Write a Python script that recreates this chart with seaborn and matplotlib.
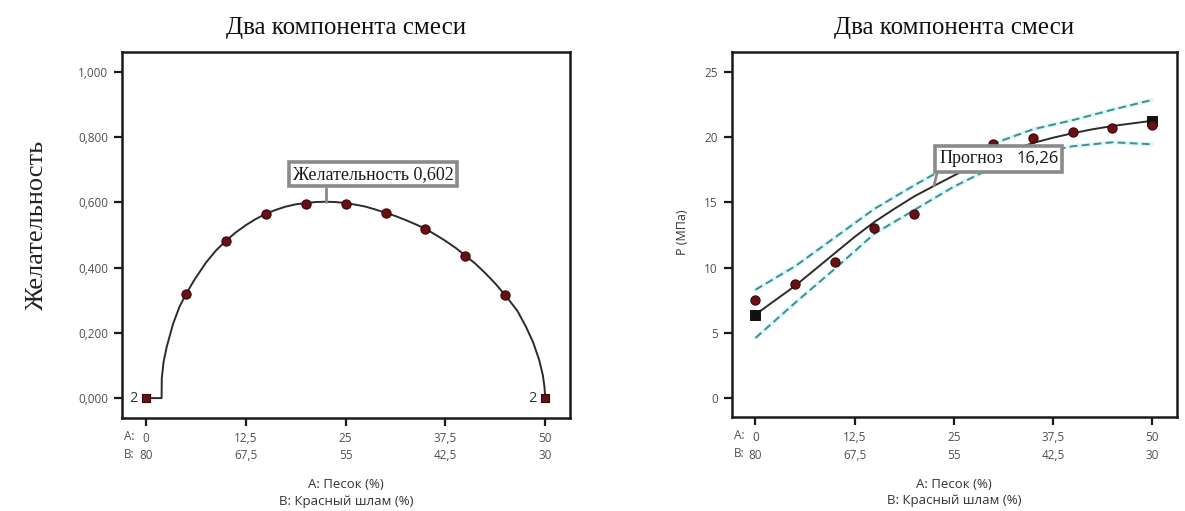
import matplotlib
matplotlib.use("Agg")
import matplotlib.pyplot as plt
from matplotlib.patches import Rectangle
import seaborn as sns
import pandas as pd

# ---------------- data ----------------
# Left panel: desirability
a_design = [5, 10, 15, 20, 25, 30, 35, 40, 45]
d_design = [0.318, 0.482, 0.565, 0.595, 0.595, 0.568, 0.519, 0.437, 0.315]
a_rep = [0, 50]
d_rep = [0.0, 0.0]
a_dcurve = [0, 1.96, 1.98, 2.2, 2.6, 3.4, 4.2, 5, 6, 7.5, 8.75, 10, 11.25, 12.5, 13.75, 15,
            16.25, 17.5, 18.75, 20, 21.25, 22.5, 23.75, 25, 26.25, 27.5, 28.75, 30, 31.25,
            32.5, 33.75, 35, 36.25, 37.5, 38.75, 40, 41.25, 42.5, 43.75, 45, 46.5, 47.6,
            48.5, 49.25, 49.7, 49.9, 50]
d_dcurve = [0, 0, 0.06, 0.11, 0.157, 0.228, 0.28, 0.318, 0.36, 0.415, 0.452, 0.482, 0.508,
            0.53, 0.549, 0.565, 0.577, 0.587, 0.594, 0.598, 0.601, 0.602, 0.601, 0.598,
            0.593, 0.587, 0.578, 0.568, 0.558, 0.546, 0.533, 0.519, 0.501, 0.482, 0.461,
            0.437, 0.412, 0.383, 0.351, 0.315, 0.268, 0.218, 0.17, 0.116, 0.07, 0.035, 0]
d_opt_a = 22.5
d_opt = 0.602

# Right panel: P (MPa)
a_obs = [0, 5, 10, 15, 20, 30, 35, 40, 45, 50]
p_obs = [7.5, 8.77, 10.4, 13.0, 14.1, 19.5, 19.9, 20.4, 20.7, 20.9]
a_sq = [0, 50]
p_sq = [6.4, 21.2]
a_fit = [0, 2.5, 5, 7.5, 10, 12.5, 15, 17.5, 20, 22.5, 25, 27.5, 30, 32.5, 35, 37.5, 40, 42.5, 45, 47.5, 50]
p_fit = [6.4, 7.5, 8.6, 9.85, 11.1, 12.35, 13.5, 14.5, 15.45, 16.26, 17.05, 17.8, 18.45, 19.05,
         19.55, 19.95, 20.3, 20.6, 20.85, 21.05, 21.25]
a_ci = [0, 5, 10, 15, 20, 25, 30, 35, 40, 45, 50]
p_upper = [8.3, 10.1, 12.3, 14.5, 16.3, 18.0, 19.5, 20.6, 21.3, 22.1, 22.85]
p_lower = [4.6, 7.3, 9.9, 12.6, 14.4, 16.2, 17.7, 18.7, 19.3, 19.6, 19.45]
pred_a = 22.5
pred_p = 16.26

xticks_a = [0, 12.5, 25, 37.5, 50]
xticks_b = [80, 67.5, 55, 42.5, 30]
yticks_left = [0, 0.2, 0.4, 0.6, 0.8, 1.0]
yticks_right = [0, 5, 10, 15, 20, 25]

title = "Два компонента смеси"

# ---------------- style ----------------
sns.set_theme(style="white")
plt.rcParams['font.family'] = ['Open Sans', 'DejaVu Sans']
SERIF = ['Liberation Serif', 'DejaVu Serif']
TICKC = '#505050'
MK = '#6a0f14'
MKE = '#3a0508'
LINEC = '#2b2b2b'
CIC = '#3c8f98'
BOXC = '#8a8a8a'

fig = plt.figure(figsize=(11.85, 5.11), dpi=100)
W, H = 1185, 511
ax1 = fig.add_axes([122 / W, (H - 418) / H, 448 / W, 366 / H])
ax2 = fig.add_axes([731.7 / W, (H - 417.3) / H, 445 / W, 365 / H])


def fmt(v, dec):
    s = f"{v:.{dec}f}" if dec else (f"{v:g}")
    return s.replace('.', ',')


def style_axes(ax):
    for sp in ax.spines.values():
        sp.set_visible(True)
        sp.set_color('#1a1a1a')
        sp.set_linewidth(1.8)
    ax.tick_params(axis='both', direction='out', length=6, width=1.6, color='#1a1a1a',
                   labelsize=8.5, labelcolor=TICKC, pad=4, left=True, bottom=True)
    ax.set_xticks(xticks_a)
    ax.set_xticklabels([f"{fmt(a, 0)}\n{fmt(b, 0)}" for a, b in zip(xticks_a, xticks_b)],
                       linespacing=1.45)
    ax.set_xlim(-3.0, 53.1)
    ax.text(-2.1, -0.033, "A:\nB:", transform=ax.get_xaxis_transform(), ha='center', va='top',
            fontsize=8.5, color=TICKC, linespacing=1.45)
    ax.text(0.5, -0.165, "A: Песок (%)\nB: Красный шлам (%)", transform=ax.transAxes,
            ha='center', va='top', fontsize=9.5, color='#333333', linespacing=1.35)
    ax.set_xlabel('')
    ax.set_ylabel('')
    ax.set_title(title, family=SERIF, fontsize=18, color='#111111', pad=13)


# ---------------- left panel ----------------
sns.lineplot(x=a_dcurve, y=d_dcurve, ax=ax1, color=LINEC, lw=1.4, sort=False, zorder=2)
sns.scatterplot(x=a_design, y=d_design, ax=ax1, color=MK, edgecolor=MKE, s=44, linewidth=0.8,
                zorder=3)
sns.scatterplot(x=a_rep, y=d_rep, ax=ax1, color=MK, edgecolor=MKE, marker='s', s=40,
                linewidth=0.8, zorder=3)
for a, d in zip(a_rep, d_rep):
    ax1.text(a - 1.1, d, "2", ha='right', va='center', fontsize=10.5, color='#333333')
ax1.set_ylim(-0.061, 1.061)
ax1.set_yticks(yticks_left)
ax1.set_yticklabels([fmt(v, 3) for v in yticks_left])
style_axes(ax1)
ax1.plot([d_opt_a, d_opt_a], [d_opt, 0.645], color=BOXC, lw=2, zorder=4)
ax1.text(18.4, 0.686, f"Желательность {fmt(d_opt, 3)}", family=SERIF, fontsize=13,
         color='#1a1a1a', ha='left', va='center', zorder=5,
         bbox=dict(boxstyle='square,pad=0.2', fc='white', ec=BOXC, lw=2.6))
fig.text(37 / W, (H - 225) / H, "Желательность", family=SERIF, fontsize=19, rotation=90,
         ha='center', va='center', color='#222222')

# ---------------- right panel ----------------
sns.lineplot(x=a_ci, y=p_upper, ax=ax2, color='#dcf7f7', lw=3.0, zorder=1)
sns.lineplot(x=a_ci, y=p_lower, ax=ax2, color='#dcf7f7', lw=3.0, zorder=1)
sns.lineplot(x=a_ci, y=p_upper, ax=ax2, color=CIC, lw=1.4, zorder=2, linestyle=(0, (4, 2.2)))
sns.lineplot(x=a_ci, y=p_lower, ax=ax2, color=CIC, lw=1.4, zorder=2, linestyle=(0, (4, 2.2)))
sns.lineplot(x=a_fit, y=p_fit, ax=ax2, color=LINEC, lw=1.4, zorder=3)
sns.scatterplot(x=a_sq, y=p_sq, ax=ax2, color='#111111', edgecolor='#000000', marker='s', s=48,
                linewidth=0.6, zorder=4)
sns.scatterplot(x=a_obs, y=p_obs, ax=ax2, color=MK, edgecolor=MKE, s=44, linewidth=0.8, zorder=5)
ax2.set_ylim(-1.48, 26.5)
ax2.set_yticks(yticks_right)
ax2.set_yticklabels([fmt(v, 0) for v in yticks_right])
style_axes(ax2)
ax2.plot([pred_a, pred_a + 0.4], [pred_p, 17.3], color=BOXC, lw=2, zorder=6)
ax2.add_patch(Rectangle((22.67, 17.33), 16.0, 2.0, fc='white', ec=BOXC, lw=2.6, zorder=6.5))
ax2.text(23.2, 18.35, "Прогноз", family=SERIF, fontsize=13,
         color='#1a1a1a', ha='left', va='center', zorder=7)
ax2.text(38.25, 18.35, fmt(pred_p, 2), fontsize=12, color='#1a1a1a', ha='right',
         va='center', zorder=8)
fig.text(683 / W, (H - 232) / H, "P (МПа)", fontsize=9, rotation=90, ha='center',
         va='center', color='#333333')

fig.savefig("out.png", dpi=100)
